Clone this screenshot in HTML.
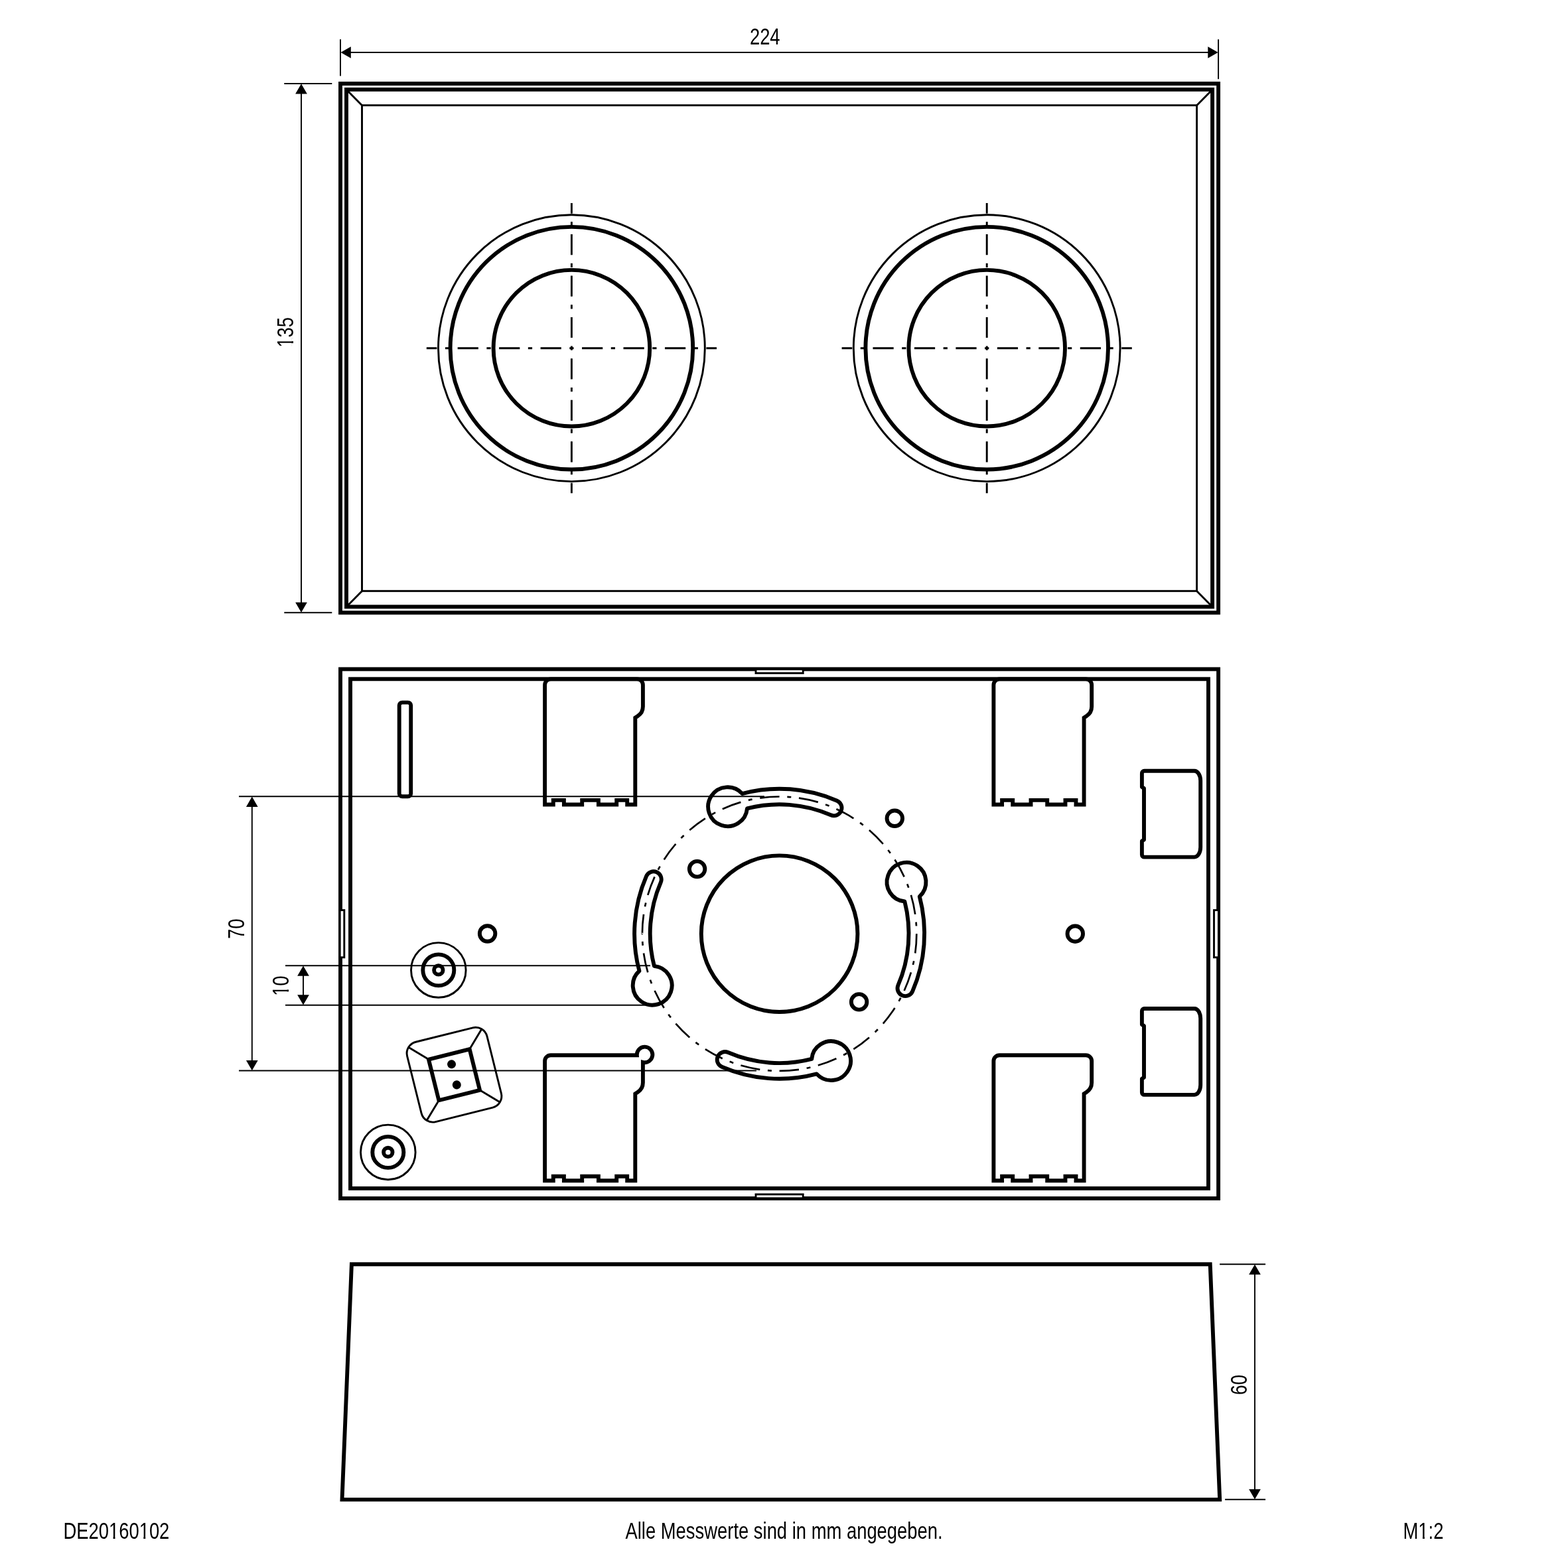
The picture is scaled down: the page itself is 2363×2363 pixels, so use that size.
<!DOCTYPE html>
<html lang="de">
<head>
<meta charset="utf-8">
<title>DE20160102</title>
<style>
html,body{margin:0;padding:0;background:#fff;}
body{width:2363px;height:2363px;overflow:hidden;}
svg{display:block;}
.k{fill:none;stroke:#000;stroke-width:5.9;stroke-linejoin:miter;}
.kw{fill:none;stroke:#000;stroke-width:5.9;stroke-linejoin:round;}
.n{fill:none;stroke:#000;stroke-width:2.9;}
.t{fill:#fff;stroke:#000;stroke-width:2.9;}
.d{fill:none;stroke:#000;stroke-width:1.9;}
.c{fill:none;stroke:#000;stroke-width:2.9;stroke-dasharray:31.23 12.49 6.25 12.49;stroke-dashoffset:15.6;}
.c2{fill:none;stroke:#000;stroke-width:2.7;}
.a{fill:#000;stroke:none;}
.f{fill:#000;stroke:none;}
text{font-family:"Liberation Sans",sans-serif;fill:#000;font-kerning:none;}
.w{fill:#fff;stroke:none;}
.txt{filter:grayscale(1);}
</style>
</head>
<body>
<svg width="2363" height="2363" viewBox="0 0 2363 2363">
<rect x="0" y="0" width="2363" height="2363" fill="#fff"/>
<g id="top-view">
<rect class="k" x="513" y="126" width="1323.1" height="797.3"/>
<rect class="k" x="522" y="134.9" width="1305.1" height="779.5"/>
<rect class="n" x="545.5" y="158.7" width="1258.1" height="732"/>
<line class="n" x1="524" y1="136.9" x2="545.5" y2="158.7"/>
<line class="n" x1="1825.1" y1="136.9" x2="1803.6" y2="158.7"/>
<line class="n" x1="524" y1="912.4" x2="545.5" y2="890.7"/>
<line class="n" x1="1825.1" y1="912.4" x2="1803.6" y2="890.7"/>
<circle class="n" cx="861.4" cy="524.7" r="200.9"/>
<circle class="k" cx="861.4" cy="524.7" r="182.8"/>
<circle class="k" cx="861.4" cy="524.7" r="117.8"/>
<line class="c" x1="642.8" y1="524.7" x2="1080" y2="524.7"/>
<line class="c" x1="861.4" y1="306.1" x2="861.4" y2="743.3"/>
<circle class="n" cx="1487.2" cy="524.7" r="200.9"/>
<circle class="k" cx="1487.2" cy="524.7" r="182.8"/>
<circle class="k" cx="1487.2" cy="524.7" r="117.8"/>
<line class="c" x1="1268.6" y1="524.7" x2="1705.8" y2="524.7"/>
<line class="c" x1="1487.2" y1="306.1" x2="1487.2" y2="743.3"/>
</g>
<g id="dim-top">
<line class="d" x1="513" y1="59.3" x2="513" y2="114.5"/>
<line class="d" x1="1836.1" y1="59.3" x2="1836.1" y2="119.2"/>
<line class="d" x1="527.8" y1="79" x2="1821.3" y2="79"/>
<polygon class="a" points="513.5,79 528.8,70.15 528.8,87.85"/>
<polygon class="a" points="1835.6,79 1820.3,87.85 1820.3,70.15"/>
<g class="txt" transform="translate(1129.9 67) scale(0.79 1)"><text font-size="34.68" text-anchor="start">224</text></g>
<line class="d" x1="428.3" y1="126" x2="500.3" y2="126"/>
<line class="d" x1="428.3" y1="923.3" x2="500.3" y2="923.3"/>
<line class="d" x1="454" y1="140.6" x2="454" y2="908.7"/>
<polygon class="a" points="454,126.3 462.85,141.6 445.15,141.6"/>
<polygon class="a" points="454,923 445.15,907.7 462.85,907.7"/>
<g class="txt" transform="translate(442.3 523.8) rotate(-90) scale(0.79 1)"><text font-size="34.68" text-anchor="start">135</text><g class="w"><rect x="1.96" y="-3.18" width="6.45" height="3.98"/><rect x="12.09" y="-3.18" width="6.18" height="3.98"/></g></g>
</g>
<g id="bottom-view">
<rect class="k" x="513" y="1008.4" width="1323.1" height="797.6"/>
<rect class="k" x="528" y="1023.3" width="1293" height="767.6"/>
<rect class="t" x="1139" y="1008.6" width="71.2" height="5.9"/>
<rect class="t" x="1139" y="1799.9" width="71.2" height="5.9"/>
<rect class="t" x="512.2" y="1371.6" width="6.6" height="71.2"/>
<rect class="t" x="1829.5" y="1371.6" width="6.9" height="71.2"/>
<rect class="k" x="601.7" y="1058.6" width="17.5" height="141.7" rx="4.5"/>
<path class="k" d="M821.1 1212.5 V1032.2 A8.8 8.8 0 0 1 829.9 1023.4 H960.1 A8.8 8.8 0 0 1 968.9 1032.2 V1064.8 A17 17 0 0 1 960.91 1079.22 L957.3 1081.6 V1212.5 H945.2 V1205.9 H929.2 V1212.5 H901.9 V1205.9 H877.2 V1212.5 H849.9 V1205.9 H833.8 V1212.5 H821.1 Z"/>
<path class="k" d="M1497.4 1212.5 V1032.2 A8.8 8.8 0 0 1 1506.2 1023.4 H1636.4 A8.8 8.8 0 0 1 1645.2 1032.2 V1064.8 A17 17 0 0 1 1637.21 1079.22 L1633.6 1081.6 V1212.5 H1621.5 V1205.9 H1605.5 V1212.5 H1578.2 V1205.9 H1553.5 V1212.5 H1526.2 V1205.9 H1510.1 V1212.5 H1497.4 Z"/>
<path class="k" d="M821.1 1779.3 V1599 A8.8 8.8 0 0 1 829.9 1590.2 H959.88 A11.75 11.75 0 1 1 968.9 1600.84 V1631.6 A17 17 0 0 1 960.91 1646.02 L957.3 1648.4 V1779.3 H945.2 V1772.7 H929.2 V1779.3 H901.9 V1772.7 H877.2 V1779.3 H849.9 V1772.7 H833.8 V1779.3 H821.1 Z"/>
<path class="k" d="M1497.4 1779.3 V1599 A8.8 8.8 0 0 1 1506.2 1590.2 H1636.4 A8.8 8.8 0 0 1 1645.2 1599 V1631.6 A17 17 0 0 1 1637.21 1646.02 L1633.6 1648.4 V1779.3 H1621.5 V1772.7 H1605.5 V1779.3 H1578.2 V1772.7 H1553.5 V1779.3 H1526.2 V1772.7 H1510.1 V1779.3 H1497.4 Z"/>
<path class="kw" d="M1724.5 1161.8 H1800 A9.2 14.8 0 0 1 1809.2 1176.6 V1276.85 A9.2 14.8 0 0 1 1800 1291.65 H1724.5 A3.6 3.6 0 0 1 1720.9 1288.05 V1267.5 L1724 1265.5 V1187.9 L1720.9 1185.9 V1165.4 A3.6 3.6 0 0 1 1724.5 1161.8 Z"/>
<path class="kw" d="M1724.5 1520 H1800 A9.2 14.8 0 0 1 1809.2 1534.8 V1635.05 A9.2 14.8 0 0 1 1800 1649.85 H1724.5 A3.6 3.6 0 0 1 1720.9 1646.25 V1625.7 L1724 1623.7 V1546.1 L1720.9 1544.1 V1523.6 A3.6 3.6 0 0 1 1724.5 1520 Z"/>
<circle class="k" cx="1174.6" cy="1407.2" r="117.8"/>
<circle class="c2" cx="1174.6" cy="1407.2" r="206.7" pathLength="220" stroke-dasharray="5 2 1 2"/>
<circle class="k" cx="1050.6" cy="1309.6" r="11.75"/>
<circle class="k" cx="1348.3" cy="1233.3" r="11.75"/>
<circle class="k" cx="1294.6" cy="1509.9" r="11.75"/>
<circle class="k" cx="734.6" cy="1407" r="11.75"/>
<circle class="k" cx="1620.3" cy="1407.2" r="11.75"/>
<circle class="n" cx="660.8" cy="1461.9" r="41.3"/>
<circle class="k" cx="660.8" cy="1461.9" r="23.5"/>
<circle class="k" cx="660.8" cy="1461.9" r="6.7"/>
<circle class="n" cx="584.8" cy="1736.4" r="41.3"/>
<circle class="k" cx="584.8" cy="1736.4" r="23.5"/>
<circle class="k" cx="584.8" cy="1736.4" r="6.7"/>
<g transform="translate(684.5 1619.7) rotate(-14)">
<rect class="n" x="-62" y="-62" width="124" height="124" rx="17.7"/>
<rect class="k" x="-31.8" y="-31.8" width="63.6" height="63.6"/>
<line class="n" x1="33.8" y1="33.8" x2="56.82" y2="56.82"/>
<line class="n" x1="33.8" y1="-33.8" x2="56.82" y2="-56.82"/>
<line class="n" x1="-33.8" y1="33.8" x2="-56.82" y2="56.82"/>
<line class="n" x1="-33.8" y1="-33.8" x2="-56.82" y2="-56.82"/>
<circle class="f" cx="0" cy="-16.45" r="6.5"/><circle class="f" cx="0" cy="15.65" r="6.5"/>
</g>
</g>
<g id="dim-mid">
<line class="d" x1="360" y1="1200.3" x2="1152" y2="1200.3"/>
<line class="d" x1="360" y1="1613.5" x2="1140" y2="1613.5"/>
<line class="d" x1="379.8" y1="1214.9" x2="379.8" y2="1598.9"/>
<polygon class="a" points="379.8,1200.6 388.65,1215.9 370.95,1215.9"/>
<polygon class="a" points="379.8,1613.2 370.95,1597.9 388.65,1597.9"/>
<g class="txt" transform="translate(367.8 1415) rotate(-90) scale(0.79 1)"><text font-size="34.68" text-anchor="start">70</text></g>
<line class="d" x1="430" y1="1455.2" x2="980" y2="1455.2"/>
<line class="d" x1="430" y1="1514.8" x2="983" y2="1514.8"/>
<line class="d" x1="457" y1="1469.8" x2="457" y2="1500.2"/>
<polygon class="a" points="457,1455.5 465.85,1470.8 448.15,1470.8"/>
<polygon class="a" points="457,1514.5 448.15,1499.2 465.85,1499.2"/>
<g class="txt" transform="translate(435.1 1501) rotate(-90) scale(0.79 1)"><text font-size="34.68" text-anchor="start">10</text><g class="w"><rect x="1.96" y="-3.18" width="6.45" height="3.98"/><rect x="12.09" y="-3.18" width="6.18" height="3.98"/></g></g>
</g>
<g id="keyholes">
<path class="kw" d="M1118.49 1196.03 A218.5 218.5 0 0 1 1261.38 1206.67 A11.8 11.8 0 0 1 1252 1228.33 A194.9 194.9 0 0 0 1125.96 1218.47 A29.45 29.45 0 1 1 1118.49 1196.03 Z"/>
<path class="kw" d="M1385.77 1351.09 A218.5 218.5 0 0 1 1375.13 1493.98 A11.8 11.8 0 0 1 1353.47 1484.6 A194.9 194.9 0 0 0 1363.33 1358.56 A29.45 29.45 0 1 1 1385.77 1351.09 Z"/>
<path class="kw" d="M1230.71 1618.37 A218.5 218.5 0 0 1 1087.82 1607.73 A11.8 11.8 0 0 1 1097.2 1586.07 A194.9 194.9 0 0 0 1223.24 1595.93 A29.45 29.45 0 1 1 1230.71 1618.37 Z"/>
<path class="kw" d="M963.43 1463.31 A218.5 218.5 0 0 1 974.07 1320.42 A11.8 11.8 0 0 1 995.73 1329.8 A194.9 194.9 0 0 0 985.87 1455.84 A29.45 29.45 0 1 1 963.43 1463.31 Z"/>
</g>
<g id="side-view">
<path class="k" d="M529.9 1905.2 H1823.7 L1838.2 2259.9 H515.5 Z"/>
<line class="d" x1="1838.1" y1="1905.2" x2="1907.1" y2="1905.2"/>
<line class="d" x1="1846.1" y1="2259.8" x2="1907.1" y2="2259.8"/>
<line class="d" x1="1891" y1="1919.8" x2="1891" y2="2245.2"/>
<polygon class="a" points="1891,1905.5 1899.85,1920.8 1882.15,1920.8"/>
<polygon class="a" points="1891,2259.5 1882.15,2244.2 1899.85,2244.2"/>
<g class="txt" transform="translate(1878.6 2102.2) rotate(-90) scale(0.79 1)"><text font-size="34.68" text-anchor="start">60</text></g>
</g>
<g id="footer">
<g class="txt" transform="translate(95.4 2319) scale(0.79 1)"><text font-size="34.68" text-anchor="start">DE20160102</text><g class="w"><rect x="88.72" y="-3.18" width="6.45" height="3.98"/><rect x="98.84" y="-3.18" width="6.18" height="3.98"/><rect x="146.58" y="-3.18" width="6.45" height="3.98"/><rect x="156.7" y="-3.18" width="6.18" height="3.98"/></g></g>
<g class="txt" transform="translate(942.5 2319.1) scale(0.79 1)"><text font-size="34.68" text-anchor="start">Alle Messwerte sind in mm angegeben.</text></g>
<g class="txt" transform="translate(2114.5 2318.9) scale(0.79 1)"><text font-size="34.68" text-anchor="start">M1:2</text><g class="w"><rect x="30.85" y="-3.18" width="6.45" height="3.98"/><rect x="40.98" y="-3.18" width="6.18" height="3.98"/></g></g>
</g>
</svg>
</body>
</html>
